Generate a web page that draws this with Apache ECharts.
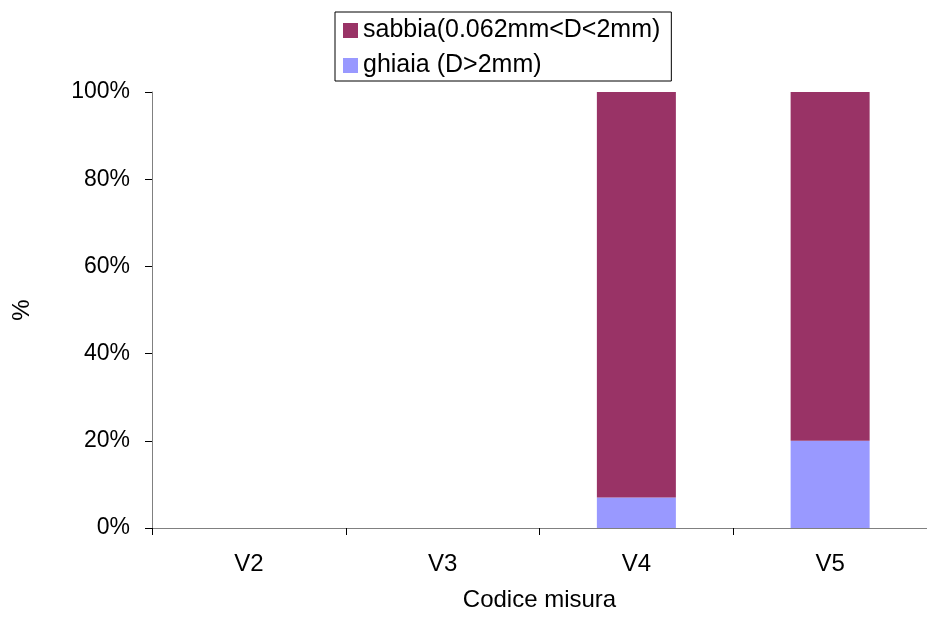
<!DOCTYPE html>
<html><head><meta charset="utf-8">
<script src="https://cdn.jsdelivr.net/npm/echarts@6/dist/echarts.min.js"></script>
<style>html,body{margin:0;padding:0;background:#fff}#c{width:927px;height:617px}</style>
</head><body><div id="c"></div>
<script>
var categories = ['V2', 'V3', 'V4', 'V5'];
var ghiaia = [null, null, 7, 20];
var sabbia = [null, null, 93, 80];
var yTicks = [0, 20, 40, 60, 80, 100];
var seriesNames = ['sabbia(0.062mm<D<2mm)', 'ghiaia (D>2mm)'];

var chart = echarts.init(document.getElementById('c'));
var font = 'Liberation Sans, Arial, sans-serif';
chart.setOption({
  animation: false,
  textStyle: { fontFamily: font },
  grid: { left: 152, right: -9, top: 92, bottom: 83, containLabel: false },
  legend: {
    orient: 'vertical', left: 335, top: 12,
    data: seriesNames,
    icon: 'rect', itemWidth: 15, itemHeight: 15, itemGap: 10,
    borderColor: '#000', borderWidth: 1, padding: [6, 11, 3, 8],
    textStyle: { fontSize: 25, color: '#000', fontFamily: font }
  },
  xAxis: {
    type: 'category', data: categories,
    name: 'Codice misura', nameLocation: 'middle', nameGap: 60,
    nameTextStyle: { fontSize: 24, color: '#000', fontFamily: font },
    axisLine: { lineStyle: { color: '#808080', width: 1 } },
    axisTick: { show: true, length: 7, lineStyle: { color: '#000' } },
    axisLabel: { fontSize: 24, color: '#000', margin: 24, fontFamily: font }
  },
  yAxis: {
    type: 'value', min: yTicks[0], max: yTicks[yTicks.length - 1], interval: 20,
    name: '%', nameLocation: 'middle', nameGap: 118, nameRotate: 90,
    nameTextStyle: { fontSize: 24, color: '#000', fontFamily: font },
    axisLine: { show: true, lineStyle: { color: '#808080', width: 1 } },
    axisTick: { show: true, length: 7, lineStyle: { color: '#000' } },
    axisLabel: { fontSize: 23, color: '#000', margin: 22, formatter: '{value}%', fontFamily: font },
    splitLine: { show: false }
  },
  series: [
    { name: seriesNames[1], type: 'bar', stack: 's', data: ghiaia, barWidth: 79,
      itemStyle: { color: '#9999FF' } },
    { name: seriesNames[0], type: 'bar', stack: 's', data: sabbia, barWidth: 79,
      itemStyle: { color: '#993366' } }
  ]
});
</script></body></html>
